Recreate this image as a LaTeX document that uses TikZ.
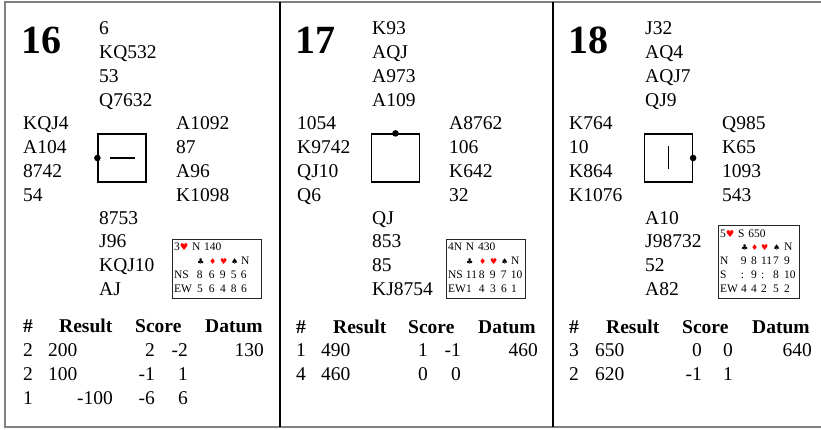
\documentclass[tikz,border=0pt]{standalone}
\usepackage{fontspec}                 % Polices système
\setmainfont{Liberation Serif}
\newfontfamily\suitfont{DejaVu Sans}  % Symboles des couleurs
\usepackage{tikz}
\usetikzlibrary{calc}                 % Calculs de coordonnées entre $ $
\definecolor{gris}{RGB}{128,128,128}
\definecolor{rouge}{RGB}{255,0,0}
\newcommand{\trefle}{\leavevmode{\suitfont\fontsize{8}{8}\selectfont ♣}}
\newcommand{\carreau}{\leavevmode{\suitfont\fontsize{8}{8}\selectfont\color{rouge}♦}}
\newcommand{\coeur}{\leavevmode{\suitfont\fontsize{8}{8}\selectfont\color{rouge}♥}}
\newcommand{\pique}{\leavevmode{\suitfont\fontsize{8}{8}\selectfont ♠}}
\newcommand{\grandcoeur}{\leavevmode{\suitfont\fontsize{9.5}{9.5}\selectfont\color{rouge}♥}}

\begin{document}
\begin{tikzpicture}[x=1pt,y=-1pt,
  main/.style={font=\fontsize{19.5}{23.7}\selectfont,inner sep=0},
  hand/.style={main,anchor=base west,align=left},
  gauche/.style={main,anchor=base west},
  droite/.style={main,anchor=base east},
  entete/.style={gauche,font=\fontsize{19.5}{23.7}\selectfont\bfseries},
  numero/.style={inner sep=0,anchor=base west,font=\fontsize{40}{40}\selectfont\bfseries},
  donne/.style={draw,line width=1.2pt,minimum size=48pt,inner sep=0},
  tally/.style={draw=black!85,line width=1pt,anchor=south west,inner xsep=1.5pt,
    inner ysep=2pt,font=\fontsize{11.5}{13.8}\selectfont},
  cadre/.style={draw=gris,line width=2pt}]
\useasboundingbox (0,0) rectangle (821,430);
\coordinate (hg) at (5,2);
\coordinate (hd) at (821,2);
\coordinate (bg) at (5,427);
\coordinate (bd) at (821,427);
\draw[cadre] (hd) -- (hg) -- (bg) -- (bd);
\coordinate (h1) at (280,2);
\coordinate (b1) at (280,427);
\coordinate (h2) at (553,2);
\coordinate (b2) at (553,427);
\draw[line width=1.3pt] (h1) -- (b1) (h2) -- (b2);

% donne 16
\node[numero] (num16) at (21,54) {16};
\node[hand] (n16) at (99,106.1) {6\\KQ532\\53\\Q7632};
\node[hand] (w16) at (23,201.1) {KQJ4\\A104\\8742\\54};
\node[hand] (e16) at (176,201.1) {A1092\\87\\A96\\K1098};
\node[hand] (s16) at (99,295.1) {8753\\J96\\KQJ10\\AJ};
\node[donne] (d16) at (122,158) {};
\fill (d16.west) circle (3.3pt);
\draw[line width=1.2pt] ($(d16.center)+(-12.5,0)$) -- ($(d16.center)+(12.5,0)$);
\node[tally,text width=86pt] (t16) at (172,299) {%
\begin{tabular}{@{}p{23pt}@{}p{12pt}@{}p{11pt}@{}p{11pt}@{}p{10pt}@{}l@{}}
\multicolumn{6}{@{}l@{}}{3\grandcoeur\ N 140}\\
 & \trefle & \carreau & \coeur & \pique & N\\
NS & 8 & 6 & 9 & 5 & 6\\
EW & 5 & 6 & 4 & 8 & 6
\end{tabular}};
\node[entete] (di16) at (23,332) {\#};
\node[entete] (re16) at (59,332) {Result};
\node[entete] (sc16) at (135,332) {Score};
\node[entete] (da16) at (205,332) {Datum};
\foreach \n/\a/\b [count=\r] in {2/2/-2,2/-1/1,1/-6/6} {
  \node[gauche] (i16-\r) at (23,333+23.7*\r) {\n};
  \node[droite] (a16-\r) at (155,333+23.7*\r) {\a};
  \node[droite] (b16-\r) at (188,333+23.7*\r) {\b};
}
\node[gauche] (p16-1) at (48,356.7) {200};
\node[gauche] (p16-2) at (48,380.4) {100};
\node[droite] (m16-3) at (113,404.1) {-100};
\node[droite] (z16) at (264,356.7) {130};

% donne 17
\begin{scope}[xshift=273pt]
\node[numero] (num17) at (22,54) {17};
\node[hand] (n17) at (99,106.1) {K93\\AQJ\\A973\\A109};
\node[hand] (w17) at (24,201.1) {1054\\K9742\\QJ10\\Q6};
\node[hand] (e17) at (176,201.1) {A8762\\106\\K642\\32};
\node[hand] (s17) at (99,295.1) {QJ\\853\\85\\KJ8754};
\node[donne] (d17) at (122.5,158) {};
\fill (d17.north) circle (3.3pt);
\node[tally,text width=76pt] (t17) at (173,299) {%
\begin{tabular}{@{}p{18pt}@{}p{13pt}@{}p{11pt}@{}p{11pt}@{}p{10pt}@{}l@{}}
\multicolumn{6}{@{}l@{}}{4N N 430}\\
 & \trefle & \carreau & \coeur & \pique & N\\
NS & 11 & 8 & 9 & 7 & 10\\
EW & 1 & 4 & 3 & 6 & 1
\end{tabular}};
\node[entete] (di17) at (23,333) {\#};
\node[entete] (re17) at (60,333) {Result};
\node[entete] (sc17) at (135,333) {Score};
\node[entete] (da17) at (205,333) {Datum};
\foreach \n/\p/\a/\b [count=\r] in {1/490/1/-1,4/460/0/0} {
  \node[gauche] (i17-\r) at (23,333+23.7*\r) {\n};
  \node[gauche] (p17-\r) at (48,333+23.7*\r) {\p};
  \node[droite] (a17-\r) at (155,333+23.7*\r) {\a};
  \node[droite] (b17-\r) at (188,333+23.7*\r) {\b};
}
\node[droite] (z17) at (265,356.7) {460};
\end{scope}

% donne 18
\begin{scope}[xshift=546pt]
\node[numero] (num18) at (22,54) {18};
\node[hand] (n18) at (99,106.1) {J32\\AQ4\\AQJ7\\QJ9};
\node[hand] (w18) at (23,201.1) {K764\\10\\K864\\K1076};
\node[hand] (e18) at (176,201.1) {Q985\\K65\\1093\\543};
\node[hand] (s18) at (99,295.1) {A10\\J98732\\52\\A82};
\node[donne] (d18) at (122.5,158) {};
\fill (d18.east) circle (3.3pt);
\draw[line width=1.2pt] ($(d18.center)+(0,-11.5)$) -- ($(d18.center)+(0,11.5)$);
\node[tally,text width=78pt] (t18) at (172,299) {%
\begin{tabular}{@{}p{21pt}@{}p{10pt}@{}p{10pt}@{}p{12pt}@{}p{11pt}@{}l@{}}
\multicolumn{6}{@{}l@{}}{5\grandcoeur\ S 650}\\
 & \trefle & \carreau & \coeur & \pique & N\\
N & 9 & 8 & 11 & 7 & 9\\
S & : & 9 & : & 8 & 10\\
EW & 4 & 4 & 2 & 5 & 2
\end{tabular}};
\node[entete] (di18) at (23,333) {\#};
\node[entete] (re18) at (60,333) {Result};
\node[entete] (sc18) at (136,333) {Score};
\node[entete] (da18) at (206,333) {Datum};
\foreach \n/\p/\a/\b [count=\r] in {3/650/0/0,2/620/-1/1} {
  \node[gauche] (i18-\r) at (23,333+23.7*\r) {\n};
  \node[gauche] (p18-\r) at (49,333+23.7*\r) {\p};
  \node[droite] (a18-\r) at (156,333+23.7*\r) {\a};
  \node[droite] (b18-\r) at (187,333+23.7*\r) {\b};
}
\node[droite] (z18) at (266,356.7) {640};
\end{scope}
\end{tikzpicture}
\end{document}
